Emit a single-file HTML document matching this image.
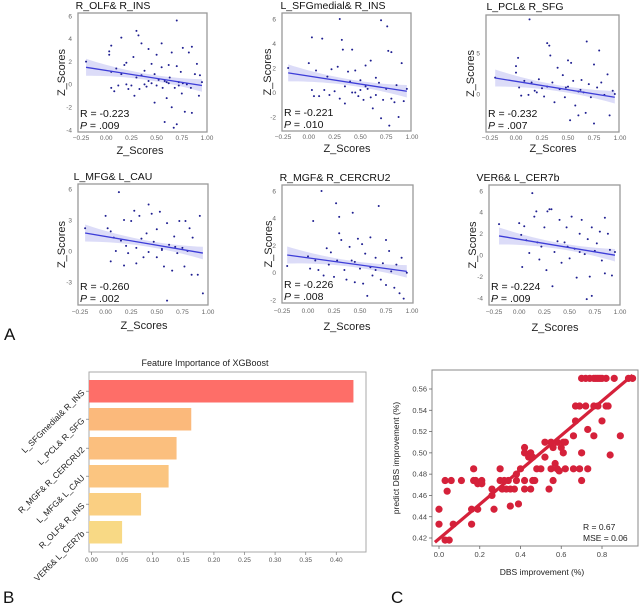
<!DOCTYPE html>
<html><head><meta charset="utf-8"><style>
html,body{margin:0;padding:0;background:#fff;width:640px;height:603px;overflow:hidden}
svg{display:block;font-family:"Liberation Sans",Arial,sans-serif}
</style></head><body>
<svg id="fig" width="640" height="603" viewBox="0 0 640 603"></svg>
<script>
// ---------- Panel A data ----------
const panelTitles = ["R_OLF& R_INS","L_SFGmedial& R_INS","L_PCL& R_SFG","L_MFG& L_CAU","R_MGF& R_CERCRU2","VER6& L_CER7b"];
const panelR = ["R = -0.223","R = -0.221","R = -0.232","R = -0.260","R = -0.226","R = -0.224"];
const panelP = [".009",".010",".007",".002",".008",".009"];
const xTickVals = [-0.25,0,0.25,0.5,0.75,1.0];
const xTickLabels = ["\u22120.25","0.00","0.25","0.50","0.75","1.00"];
const yTickVals = [[6,4,2,0,-2,-4],[6,4,2,0,-2],[5,0],[6,3,0,-3],[6,4,2,0,-2],[6,4,2,0,-2,-4]];
const regStart = [[-0.2,1.5],[-0.2,1.6],[-0.2,1.95],[-0.2,1.74],[-0.2,1.3],[-0.2,1.8]];
const regEnd = [[0.95,-0.1],[0.95,0.1],[0.95,-0.4],[0.95,-0.2],[0.95,0.1],[0.95,0.0]];
const pts1 = [[-0.2,2],[0.03,2.6],[0.03,2.9],[0.05,3.4],[0.05,1.1],[0.05,-0.3],[0.08,-0.6],[0.1,1.4],[0.12,-0.1],[0.15,4.1],[0.15,0.9],[0.18,1.7],[0.2,1.9],[0.2,0],[0.22,-0.4],[0.25,-0.1],[0.27,2.4],[0.28,-1],[0.3,4.7],[0.3,0.6],[0.32,4.3],[0.33,-0.4],[0.35,3.6],[0.35,0.8],[0.38,1.2],[0.4,-0.2],[0.42,3.1],[0.42,0.3],[0.45,1.8],[0.45,0.1],[0.48,-1.6],[0.48,0.9],[0.5,2.6],[0.5,-0.1],[0.52,0.4],[0.55,3.6],[0.55,1.5],[0.56,-0.3],[0.58,-3.3],[0.6,0.2],[0.6,-1.2],[0.62,1.7],[0.63,0.6],[0.65,-2],[0.65,2.8],[0.67,-3.8],[0.68,-0.3],[0.7,5.6],[0.7,1.6],[0.7,-3.5],[0.72,0.2],[0.74,1.1],[0.75,-0.8],[0.76,3.2],[0.76,0.1],[0.78,-2.4],[0.8,0],[0.82,2.8],[0.84,-0.3],[0.85,3.3],[0.85,-2.5],[0.88,0.9],[0.9,1.8],[0.92,-1],[0.93,0.8],[0.95,0.2],[0.38,0],[0.62,0.1],[0.72,-0.1],[0.58,0.3]];
const pts2 = [[-0.2,2],[0,2.4],[0.03,4.5],[0.03,0.2],[0.05,-0.3],[0.07,1.8],[0.1,-0.3],[0.13,4.4],[0.15,0.2],[0.18,1.3],[0.2,-0.2],[0.22,1.9],[0.25,0.1],[0.28,2.1],[0.3,6],[0.3,-0.5],[0.32,4.3],[0.33,3.5],[0.35,0.5],[0.35,-0.9],[0.38,1.7],[0.4,0.9],[0.42,3.5],[0.42,0],[0.45,1.8],[0.48,-0.3],[0.5,1],[0.5,0.2],[0.53,-0.6],[0.55,2.2],[0.57,0.3],[0.6,2.6],[0.6,-0.4],[0.62,-1.3],[0.65,1.2],[0.65,-0.2],[0.68,0.8],[0.7,5.9],[0.7,-2.1],[0.72,-0.6],[0.75,0.3],[0.76,5.4],[0.77,3.4],[0.78,-2.7],[0.8,3.3],[0.8,-0.5],[0.83,-0.8],[0.85,0.6],[0.87,-2],[0.9,2.4],[0.92,-0.7],[0.95,0.3],[0.55,0.5],[0.45,0]];
const pts3 = [[-0.2,2],[0,3.4],[0,2.6],[0.02,4.4],[0.03,0.8],[0.05,-0.2],[0.08,1.6],[0.12,-0.1],[0.13,9.1],[0.15,1.4],[0.18,0.4],[0.2,0.2],[0.22,1.8],[0.25,0.7],[0.27,-0.3],[0.3,6.2],[0.3,0.9],[0.32,5.9],[0.33,4.7],[0.35,1.4],[0.37,-1],[0.4,3.2],[0.42,0.6],[0.45,2.3],[0.47,-0.4],[0.5,4.1],[0.5,0.9],[0.52,-3.2],[0.53,3.8],[0.55,1.6],[0.57,-1.4],[0.6,0.3],[0.6,-2.6],[0.63,1.7],[0.65,0.2],[0.67,-2.3],[0.68,6.4],[0.7,1.2],[0.72,-0.4],[0.75,3.6],[0.75,-3.6],[0.78,0.8],[0.8,5.3],[0.82,1.4],[0.85,-0.1],[0.88,2.4],[0.9,-2.6],[0.93,0.4],[0.95,0],[0.48,0.8],[0.62,0.5]];
const pts4 = [[-0.2,2.2],[0,3.4],[0.02,2.2],[0.05,-1],[0.05,1.9],[0.08,1.3],[0.1,0],[0.13,5.7],[0.15,1],[0.18,-1.4],[0.18,3],[0.2,0.5],[0.22,-0.2],[0.25,2.9],[0.28,3.9],[0.3,0.3],[0.3,-1.2],[0.33,3.4],[0.35,1.2],[0.37,-0.6],[0.4,1.7],[0.42,4.5],[0.42,-0.1],[0.45,3.6],[0.47,0.9],[0.5,-0.6],[0.5,2.1],[0.53,3.8],[0.55,0.2],[0.57,-1.5],[0.6,-4.8],[0.6,2.7],[0.62,0.6],[0.65,-1.9],[0.67,1.4],[0.7,-0.2],[0.72,2.9],[0.75,0.3],[0.77,-1.5],[0.78,2.9],[0.8,0],[0.82,2.2],[0.84,-2.3],[0.85,1.3],[0.9,-2.3],[0.92,3.4],[0.95,-4.1],[0.55,0.1],[0.68,0.4]];
const pts5 = [[-0.2,0.5],[0,1.2],[0.02,0.3],[0.05,3.8],[0.07,0.9],[0.1,0.2],[0.13,6],[0.15,-0.2],[0.18,1.8],[0.2,0.6],[0.22,1.5],[0.25,-0.3],[0.27,5.1],[0.28,0.9],[0.3,4.1],[0.3,2.9],[0.32,2.4],[0.35,0.2],[0.37,-0.5],[0.4,1.9],[0.42,0.9],[0.43,4.4],[0.45,-0.7],[0.48,2.5],[0.5,0.3],[0.52,2.1],[0.53,-0.8],[0.55,1.4],[0.57,-1.7],[0.6,2.6],[0.6,0.4],[0.62,-0.2],[0.65,1.1],[0.68,4.9],[0.7,-0.5],[0.72,0.7],[0.75,2.4],[0.75,-0.9],[0.78,1.6],[0.8,0.1],[0.83,-1.1],[0.85,0.6],[0.88,-1.5],[0.9,1.1],[0.92,-1.9],[0.95,0],[0.45,0.8],[0.65,0.2]];
const pts6 = [[-0.2,2.9],[0,3],[0.02,1.9],[0.03,-1.1],[0.05,2.7],[0.07,1.4],[0.1,0.2],[0.13,5.8],[0.15,3.6],[0.17,4.1],[0.18,1.2],[0.2,-0.4],[0.22,0.8],[0.25,2.6],[0.27,-1.4],[0.28,4.1],[0.3,4.3],[0.32,4.3],[0.33,-2.9],[0.35,0.3],[0.38,1.3],[0.4,3.3],[0.42,-0.7],[0.45,1.2],[0.47,2.6],[0.5,-0.3],[0.52,3.6],[0.55,0.6],[0.57,-2.1],[0.6,2],[0.62,3.3],[0.65,0.1],[0.67,-4.1],[0.68,1.5],[0.7,-2],[0.72,-3.8],[0.72,2.6],[0.75,0.4],[0.77,1.1],[0.8,2.2],[0.82,-0.5],[0.85,3.5],[0.85,-1.7],[0.88,2],[0.9,0.5],[0.92,-1.9],[0.95,0.3],[0.48,0.8],[0.6,0.3]];
const panelPts = [pts1,pts2,pts3,pts4,pts5,pts6];
// ---------- Panel B data ----------
const barLabels = ["L_SFGmedial& R_INS","L_PCL& R_SFG","R_MGF& R_CERCRU2","L_MFG& L_CAU","R_OLF& R_INS","VER6& L_CER7b"];
const barValues = [0.428,0.163,0.139,0.126,0.081,0.050];
const barColors = ["#fe6e68","#fbb97b","#fbbf7e","#fbc580","#facf82","#f8d985"];
const bTicks = [0,0.05,0.1,0.15,0.2,0.25,0.3,0.35,0.4];
// ---------- Panel C data ----------
const cX = [0.70,0.72,0.74,0.76,0.77,0.78,0.79,0.80,0.82,0.86,0.93,0.95, 0.67,0.69,0.72,0.76,0.78,0.82,0.83, 0.67,0.80, 0.73, 0.66,0.76,0.89, 0.52,0.55,0.58,0.61,0.62, 0.42,0.56,0.60, 0.42,0.45,0.61,0.70, 0.84, 0.44,0.46,0.52, 0.57, 0.17,0.30,0.40,0.48,0.50,0.55,0.58,0.62,0.66,0.69,0.73, 0.59, 0.38, 0.03,0.06,0.11,0.17,0.18,0.21,0.30,0.32,0.34,0.38,0.42,0.46,0.47,0.56,0.70, 0.19,0.21, 0.26,0.31,0.33,0.35,0.37,0.42,0.45,0.54, 0.04, 0.26, 0.39, 0.35, 0.00,0.16,0.19,0.27, 0.00,0.07,0.16, 0.03,0.05];
const cY = [0.57,0.57,0.57,0.57,0.57,0.57,0.57,0.57,0.57,0.57,0.57,0.57, 0.544,0.544,0.544,0.544,0.544,0.544,0.544, 0.53,0.53, 0.522, 0.516,0.516,0.516, 0.51,0.51,0.51,0.51,0.51, 0.505,0.505,0.505, 0.50,0.50,0.50,0.50, 0.498, 0.496,0.496,0.496, 0.49, 0.485,0.485,0.485,0.485,0.485,0.485,0.485,0.485,0.485,0.485,0.485, 0.483, 0.48, 0.474,0.474,0.474,0.474,0.474,0.474,0.474,0.474,0.474,0.474,0.474,0.474,0.474,0.474,0.474, 0.471,0.471, 0.466,0.466,0.466,0.466,0.466,0.466,0.466,0.466, 0.464, 0.46, 0.452, 0.45, 0.447,0.447,0.447,0.447, 0.433,0.433,0.433, 0.418,0.418];
const cXTicks = [0,0.2,0.4,0.6,0.8];
const cXTickLabels = ["0.0","0.2","0.4","0.6","0.8"];
const cYTicks = [0.42,0.44,0.46,0.48,0.50,0.52,0.54,0.56];
const cFitStart = [-0.02,0.416];
const cFitEnd = [0.95,0.573];

const NS="http://www.w3.org/2000/svg";
const svg=document.getElementById('fig');
function mk(tag,attrs,parent,text){const e=document.createElementNS(NS,tag);for(const k in attrs)e.setAttribute(k,attrs[k]);if(text!==undefined)e.textContent=text;(parent||svg).appendChild(e);return e;}

const geo=[
 {fx0:78,fx1:207,fy0:13,fy1:132,xa:81,xb:207,yv0:6,yp0:16,yv1:-4,yp1:130,tx:113,ty:9,ylx:61,lx:140,ly:154,tly:140},
 {fx0:282,fx1:411,fy0:13,fy1:131,xa:283,xb:412,yv0:6,yp0:19,yv1:-2,yp1:117,tx:333,ty:9,ylx:267,lx:347,ly:152,tly:139},
 {fx0:486,fx1:619,fy0:15,fy1:132,xa:490,xb:620,yv0:5,yp0:53,yv1:0,yp1:94,tx:525,ty:10,ylx:470,lx:553,ly:152,tly:140},
 {fx0:78,fx1:208,fy0:184,fy1:305,xa:80,xb:208,yv0:6,yp0:189,yv1:-3,yp1:282,tx:113,ty:180,ylx:61,lx:144,ly:329,tly:314},
 {fx0:282,fx1:413,fy0:185,fy1:303,xa:282,xb:412,yv0:6,yp0:191,yv1:-2,yp1:300,tx:335,ty:181,ylx:268,lx:347,ly:330,tly:313},
 {fx0:489,fx1:620,fy0:185,fy1:305,xa:494,xb:620,yv0:6,yp0:191,yv1:-4,yp1:298,tx:518,ty:181,ylx:472,lx:555,ly:331,tly:314}
];

geo.forEach((g,i)=>{
  const grp=mk('g',{});
  
  
  const sx=v=>g.xa+(v+0.25)/1.25*(g.xb-g.xa);
  const sy=v=>g.yp0+(v-g.yv0)/(g.yv1-g.yv0)*(g.yp1-g.yp0);
  const clipId='clip'+i;
  const cp=mk('clipPath',{id:clipId},grp);mk('rect',{x:g.fx0,y:g.fy0,width:g.fx1-g.fx0,height:g.fy1-g.fy0},cp);
  const t=mk('text',{x:g.tx,y:g.ty,'text-anchor':'middle','font-size':10.5,fill:'#111'},grp,panelTitles[i]);
  
  const s=regStart[i],e=regEnd[i],n=24;let up=[],dn=[];
  for(let k=0;k<=n;k++){const x=s[0]+(e[0]-s[0])*k/n;const y=s[1]+(e[1]-s[1])*k/n;const h=3+5.5*Math.pow((x-0.45)/0.65,2);up.push(sx(x)+','+(sy(y)-h));dn.unshift(sx(x)+','+(sy(y)+h));}
  const band=mk('polygon',{points:up.concat(dn).join(' '),fill:'#3b3bd6','fill-opacity':0.18,'clip-path':'url(#'+clipId+')'},grp);
  
  panelPts[i].forEach(p=>{const c=mk('circle',{cx:sx(p[0]),cy:sy(p[1]),r:1.0,fill:'#1e1e90','clip-path':'url(#'+clipId+')'},grp);
    });
  const ln=mk('line',{x1:sx(s[0]),y1:sy(s[1]),x2:sx(e[0]),y2:sy(e[1]),stroke:'#3d3dd8','stroke-width':1.3},grp);
  
  const fr=mk('rect',{x:g.fx0,y:g.fy0,width:g.fx1-g.fx0,height:g.fy1-g.fy0,fill:'none',stroke:'#999','stroke-width':1.3},grp);
  
  xTickVals.forEach((v,k)=>{const tl=mk('text',{x:sx(v),y:g.tly,'text-anchor':'middle','font-size':6.5,fill:'#666'},grp,xTickLabels[k]);
    });
  yTickVals[i].forEach(v=>{const tl=mk('text',{x:g.fx0-6,y:sy(v)+2.3,'text-anchor':'end','font-size':6.5,fill:'#666'},grp,String(v));
    });
  const xl=mk('text',{x:g.lx,y:g.ly,'text-anchor':'middle','font-size':11,fill:'#222'},grp,'Z_Scores');
  
  const ym=(g.fy0+g.fy1)/2;
  const yl=mk('text',{x:g.ylx+4,y:ym,'text-anchor':'middle','font-size':11,fill:'#222',transform:'rotate(-90 '+(g.ylx+4)+' '+ym+')'},grp,'Z_Scores');
  
  const rt=mk('text',{x:g.fx0+2,y:g.fy1-15,'font-size':10.5,fill:'#111'},grp,panelR[i]);
  
  const pt=mk('text',{x:g.fx0+2,y:g.fy1-3,'font-size':10.5,fill:'#111'},grp);
  
  mk('tspan',{'font-style':'italic'},pt,'P');mk('tspan',{},pt,' = '+panelP[i]);
});
const la=mk('text',{x:4,y:340,'font-size':17,fill:'#111'},svg,'A');


// ---------- Panel B ----------
(function(){
  const g=mk('g',{});
  const x0=91.5,perUnit=612,fl=89,fr=366,ft=372,fb=552;
  const bx=v=>x0+v*perUnit;
  const bTop=[380,408,437,465,493,521],bH=22.5;
  const tt=mk('text',{x:205,y:366,'text-anchor':'middle','font-size':9,fill:'#222'},g,'Feature Importance of XGBoost');
  
  mk('rect',{x:fl,y:ft,width:fr-fl,height:fb-ft,fill:'none',stroke:'#aaa','stroke-width':1},g);
  barValues.forEach((v,i)=>{
    const r=mk('rect',{x:fl,y:bTop[i],width:bx(v)-fl,height:bH,fill:barColors[i]},g);
    
    const cy=bTop[i]+bH/2;
    mk('line',{x1:fl-3,y1:cy,x2:fl,y2:cy,stroke:'#888','stroke-width':0.8},g);
    const lb=mk('text',{x:fl-6,y:cy+3,'text-anchor':'end','font-size':8.5,fill:'#222',transform:'rotate(-45 '+(fl-6)+' '+cy+')'},g,barLabels[i]);
    
  });
  bTicks.forEach(v=>{mk('line',{x1:bx(v),y1:fb,x2:bx(v),y2:fb+3,stroke:'#888','stroke-width':0.8},g);
    const t=mk('text',{x:bx(v),y:fb+10,'text-anchor':'middle','font-size':6.5,fill:'#555'},g,v.toFixed(2));
    });
  const lb=mk('text',{x:3,y:603,'font-size':17,fill:'#111'},svg,'B');
  
})();

// ---------- Panel C ----------
(function(){
  const g=mk('g',{});
  const fl=432,fr=638,ft=370,fb=546;
  const cx=v=>439+v*(602-439)/0.8;
  const cy=v=>538-(v-0.42)*(538-389)/0.14;
  const cp=mk('clipPath',{id:'clipc'},g);
  mk('rect',{x:fl,y:ft,width:fr-fl,height:fb-ft},cp);
  cX.forEach((x,i)=>{const c=mk('circle',{cx:cx(x),cy:cy(cY[i]),r:3.6,fill:'#d5213a','clip-path':'url(#clipc)'},g);
    });
  const ln=mk('line',{x1:cx(cFitStart[0]),y1:cy(cFitStart[1]),x2:cx(cFitEnd[0]),y2:cy(cFitEnd[1]),stroke:'#d5213a','stroke-width':3.2,'clip-path':'url(#clipc)'},g);
  
  const fr2=mk('rect',{x:fl,y:ft,width:fr-fl,height:fb-ft,fill:'none',stroke:'#888','stroke-width':1},g);
  
  cXTicks.forEach((v,k)=>{mk('line',{x1:cx(v),y1:fb,x2:cx(v),y2:fb+3,stroke:'#666','stroke-width':0.8},g);
    const t=mk('text',{x:cx(v),y:fb+11,'text-anchor':'middle','font-size':7.5,fill:'#444'},g,cXTickLabels[k]);
    });
  cYTicks.forEach(v=>{mk('line',{x1:fl-3,y1:cy(v),x2:fl,y2:cy(v),stroke:'#666','stroke-width':0.8},g);
    const t=mk('text',{x:fl-5,y:cy(v)+2.6,'text-anchor':'end','font-size':7.5,fill:'#444'},g,v.toFixed(2));
    });
  const xl=mk('text',{x:542,y:575,'text-anchor':'middle','font-size':8.5,fill:'#222'},g,'DBS improvement (%)');
  
  const yl=mk('text',{x:399,y:458,'text-anchor':'middle','font-size':8.5,fill:'#222',transform:'rotate(-90 399 458)'},g,'predict DBS improvement (%)');
  
  const r=mk('text',{x:583,y:530,'font-size':8.5,fill:'#222'},g,'R = 0.67');
  
  const m=mk('text',{x:583,y:541,'font-size':8.5,fill:'#222'},g,'MSE = 0.06');
  
  const lc=mk('text',{x:391,y:603,'font-size':17,fill:'#111'},svg,'C');
  
})();
</script>
</body></html>
